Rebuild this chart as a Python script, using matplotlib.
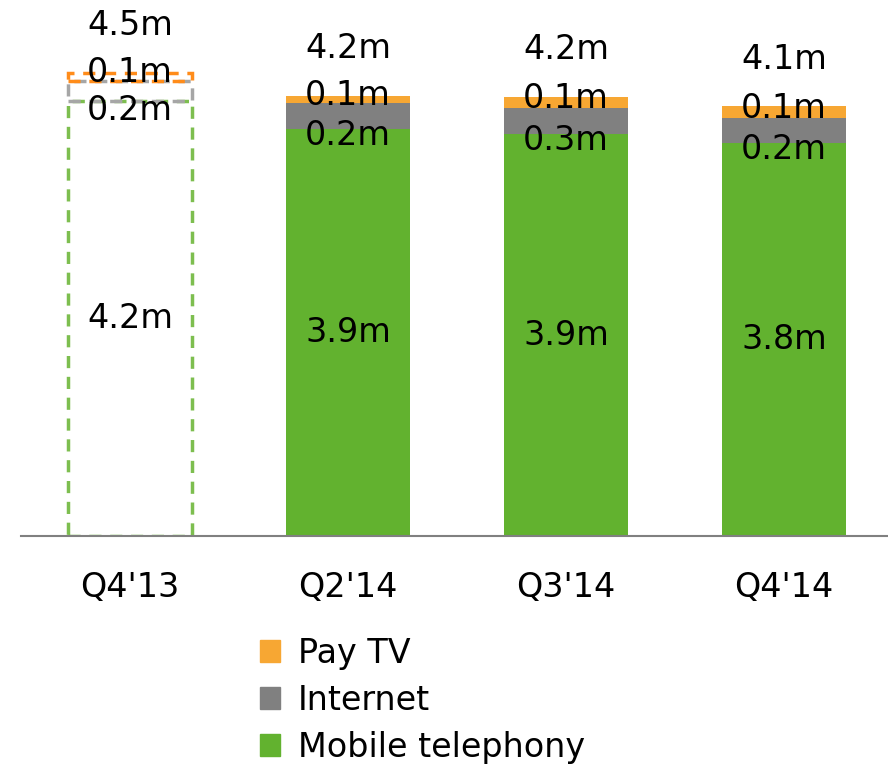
import numpy as np
import matplotlib
matplotlib.use('Agg')
from matplotlib import pyplot as plt
from matplotlib.patches import Patch

# Subscribers per quarter, millions
quarters = ["Q4'13", "Q2'14", "Q3'14", "Q4'14"]
mobile = [4.22, 3.95, 3.90, 3.82]
internet = [0.20, 0.25, 0.26, 0.24]
pay_tv = [0.08, 0.07, 0.10, 0.11]

mobile_labels = ['4.2m', '3.9m', '3.9m', '3.8m']
internet_labels = ['0.2m', '0.2m', '0.3m', '0.2m']
pay_tv_labels = ['0.1m', '0.1m', '0.1m', '0.1m']
total_labels = ['4.5m', '4.2m', '4.2m', '4.1m']

plt.rcParams['font.family'] = ['DejaVu Sans']

c_tv = '#F7A733'
c_net = '#808080'
c_mob = '#62B22F'

fig = plt.figure(figsize=(8.88, 7.71), dpi=100)
ax = fig.add_axes([21 / 888, 235 / 771, 867 / 888, 536 / 771])

x = np.arange(len(quarters))
mobile = np.array(mobile)
internet = np.array(internet)
pay_tv = np.array(pay_tv)
width = 0.573

# first quarter is drawn as a dashed outline only
dash = (0, (3.5, 2.5))
ax.bar(x[0], mobile[0], width, facecolor='none', edgecolor='#7DBE4F',
       linestyle=dash, linewidth=2.5)
ax.bar(x[0], internet[0], width, bottom=mobile[0], facecolor='none',
       edgecolor='#A6A6A6', linestyle=dash, linewidth=2.5)
ax.bar(x[0], pay_tv[0], width, bottom=mobile[0] + internet[0], facecolor='none',
       edgecolor='#FF8C1A', linestyle=dash, linewidth=2.5)

ax.bar(x[1:], mobile[1:], width, color=c_mob)
ax.bar(x[1:], internet[1:], width, bottom=mobile[1:], color=c_net)
ax.bar(x[1:], pay_tv[1:], width, bottom=mobile[1:] + internet[1:], color=c_tv)

fs = 24
for i in range(len(quarters)):
    top = mobile[i] + internet[i] + pay_tv[i]
    ax.text(x[i], mobile[i] / 2, mobile_labels[i], ha='center', va='center', fontsize=fs)
    ax.text(x[i], mobile[i] + internet[i] / 2 - 0.19, internet_labels[i],
            ha='center', va='center', fontsize=fs)
    ax.text(x[i], top - pay_tv[i] / 2 + 0.04, pay_tv_labels[i],
            ha='center', va='center', fontsize=fs)
    ax.text(x[i], top + 0.46, total_labels[i], ha='center', va='center', fontsize=fs)

ax.set_xlim(-0.5, 3.477)
ax.set_ylim(0, 536 / 103)
ax.set_xticks(x)
ax.set_xticklabels(quarters, fontsize=fs)
ax.tick_params(axis='x', length=0, pad=25)
ax.set_yticks([])
for s in ['top', 'right', 'left']:
    ax.spines[s].set_visible(False)
ax.spines['bottom'].set_color('#808080')
ax.spines['bottom'].set_linewidth(1.5)

handles = [Patch(color=c_tv, label='Pay TV'),
           Patch(color=c_net, label='Internet'),
           Patch(color=c_mob, label='Mobile telephony')]
fig.legend(handles=handles, loc='upper left', bbox_to_anchor=(243 / 888, 1 - 620 / 771),
           frameon=False, fontsize=fs, handlelength=0.6, handleheight=0.6,
           handletextpad=0.55, labelspacing=0.42, borderpad=0)

fig.savefig('out.png', dpi=100)
